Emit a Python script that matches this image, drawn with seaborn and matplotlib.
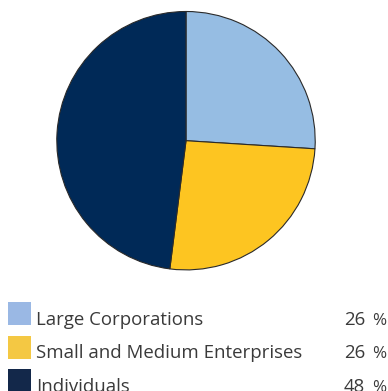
import matplotlib
matplotlib.use("Agg")
import matplotlib.pyplot as plt
from matplotlib.patches import Rectangle
import seaborn as sns

# Customer segments and their share of the portfolio (%)
segments = ["Large Corporations", "Small and Medium Enterprises", "Individuals"]
shares = [26, 26, 48]

slice_colors = ["#96bde3", "#fdc521", "#002957"]
swatch_colors = ["#9ab8e4", "#f4c843", "#13284a"]
text_color = "#3a3a3a"

sns.set_theme(style="white")
plt.rcParams["font.family"] = ["Open Sans", "DejaVu Sans"]

W, H = 388, 391
fig = plt.figure(figsize=(W / 100, H / 100), dpi=100)

# Pie axes: a square box of 261 px centred at (186, 141) px from top-left
cx, cy, r = 186, 140.7, 130.5
ax = fig.add_axes([(cx - r) / W, 1 - (cy + r) / H, 2 * r / W, 2 * r / H])
ax.pie(
    shares,
    colors=slice_colors,
    startangle=90,
    counterclock=False,
    radius=1,
    wedgeprops=dict(edgecolor="#2a2a2a", linewidth=0.8),
)
ax.set_xlim(-1.01, 1.01)
ax.set_ylim(-1.01, 1.01)
ax.set_axis_off()

# Legend rows: swatch, segment name, share
row_top = 302
row_step = 33.5
for i, (name, val, col) in enumerate(zip(segments, shares, swatch_colors)):
    top = row_top + i * row_step
    fig.patches.append(
        Rectangle((8 / W, 1 - (top + 23) / H), 23 / W, 23 / H,
                  transform=fig.transFigure, facecolor=col, edgecolor="none")
    )
    base = 1 - (top + 23) / H
    fig.text(36 / W, base, name, fontsize=13.4, color=text_color,
             ha="left", va="baseline")
    fig.text(365 / W, base, f"{val}", fontsize=13.4, color=text_color,
             ha="right", va="baseline")
    fig.text(386 / W, base, "%", fontsize=12.3, color=text_color,
             ha="right", va="baseline")

fig.savefig("out.png", dpi=100)
